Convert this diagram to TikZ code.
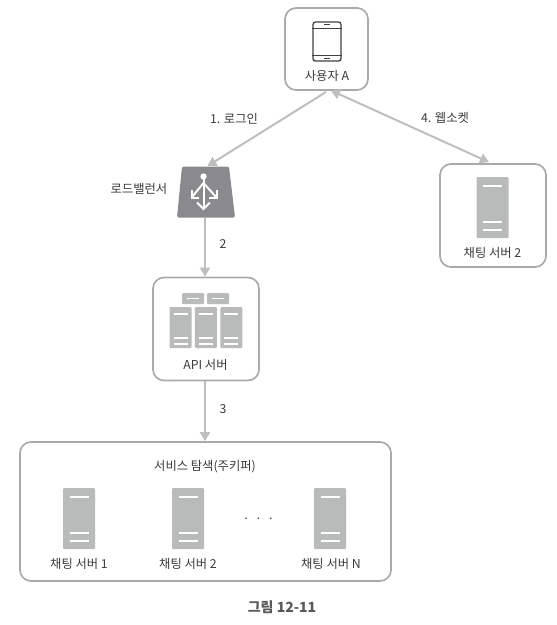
\documentclass[tikz,border=0pt]{standalone}
\usepackage{fontspec}
\setmainfont{Noto Sans CJK KR}
\usepackage{tikz}
\usetikzlibrary{arrows.meta, positioning}

\definecolor{linegray}{HTML}{BDBFBF}
\definecolor{framegray}{HTML}{A9ABAB}
\definecolor{servergray}{HTML}{B9BBBB}
\definecolor{lbgray}{HTML}{8A8A8E}
\definecolor{textgray}{HTML}{3A3A3A}

\begin{document}
\begin{tikzpicture}[
    x=1pt, y=-1pt,
    frame/.style={rectangle, draw=framegray, line width=1.7pt, rounded corners=11pt, inner sep=0pt},
    server/.style={rectangle, fill=servergray, rounded corners=1pt, minimum width=32pt, minimum height=61pt, inner sep=0pt},
    rack/.style={rectangle, fill=servergray, rounded corners=1pt, minimum width=22pt, minimum height=41pt, inner sep=0pt},
    switch/.style={rectangle, fill=servergray, rounded corners=1pt, minimum width=22pt, minimum height=11pt, inner sep=0pt},
    label/.style={text=textgray, font=\fontsize{12.3}{14}\selectfont, inner sep=0pt},
    arrow/.style={-{Triangle[length=9pt,width=10pt]}, line width=2pt, draw=linegray},
    slot/.style={draw=white, line width=1.8pt},
    lbline/.style={draw=white, line width=2pt}
]
\useasboundingbox (0,0) rectangle (557,625);

% boxes
\node[frame, minimum width=83pt, minimum height=82pt] (userbox) at (326.5,49) {};
\node[frame, minimum width=106pt, minimum height=103pt] (apibox) at (206,329) {};
\node[frame, minimum width=106pt, minimum height=103pt] (chatbox) at (493,215.5) {};
\node[frame, minimum width=371pt, minimum height=139pt] (groupbox) at (205.5,511.5) {};

% phone
\node[rectangle, draw=black!75, line width=1.3pt, rounded corners=2.5pt, minimum width=28pt, minimum height=39pt, inner sep=0pt] (phone) at (327,41.5) {};
\draw[black!75, line width=1pt] ([yshift=-7pt]phone.north west) -- ([yshift=-7pt]phone.north east);
\draw[black!75, line width=1pt] ([yshift=6pt]phone.south west) -- ([yshift=6pt]phone.south east);
\draw[black!75, line width=1pt] ([xshift=-3pt,yshift=-3.5pt]phone.north) -- ([xshift=3pt,yshift=-3.5pt]phone.north);
\draw[black!75, line width=1pt] ([xshift=-3pt,yshift=3pt]phone.south) -- ([xshift=3pt,yshift=3pt]phone.south);

% load balancer
\fill[lbgray, rounded corners=1.5pt] (182,166.5) -- (229,166.5) -- (235,217.5) -- (177,217.5) -- cycle;
\coordinate (lbtop) at (207.5,166);
\coordinate (lbbottom) at (205,218);
\fill[white] (203.5,176.5) circle (3.2pt);
\draw[lbline] (203.5,176.5) -- (203.5,208);
\draw[lbline] (203.5,183) -- (192,197);
\draw[lbline] (203.5,183) -- (216,197);
\draw[lbline] (197,202.5) -- (203.5,209) -- (210,202.5);
\draw[lbline] (192,190) -- (192,197.5) -- (199,197.5);
\draw[lbline] (216.5,190) -- (216.5,197.5) -- (209,197.5);

% api servers
\node[switch] (sw1) at (193,298.5) {};
\node[switch] (sw2) at (218,298.5) {};
\node[rack] (rack1) at (180.5,327.5) {};
\node[rack, right=3pt of rack1] (rack2) {};
\node[rack, right=3pt of rack2] (rack3) {};
\foreach \n in {sw1,sw2}
    \draw[slot] ([xshift=-6pt]\n.center) -- ([xshift=6pt]\n.center);
\foreach \n in {rack1,rack2,rack3} {
    \draw[slot] ([xshift=-7pt,yshift=-7pt]\n.north) -- ([xshift=7pt,yshift=-7pt]\n.north);
    \draw[slot] ([xshift=-7pt,yshift=10pt]\n.south) -- ([xshift=7pt,yshift=10pt]\n.south);
    \draw[slot] ([xshift=-7pt,yshift=4.5pt]\n.south) -- ([xshift=7pt,yshift=4.5pt]\n.south);
}

% chat servers
\node[server] (srv0) at (492.5,207.5) {};
\node[server] (srv1) at (79,518.5) {};
\node[server] (srv2) at (188,518.5) {};
\node[server] (srv3) at (330,518.5) {};
\foreach \n in {srv0,srv1,srv2,srv3} {
    \draw[slot] ([xshift=-9.5pt,yshift=-9pt]\n.north) -- ([xshift=9.5pt,yshift=-9pt]\n.north);
    \draw[slot] ([xshift=-9.5pt,yshift=16pt]\n.south) -- ([xshift=9.5pt,yshift=16pt]\n.south);
    \draw[slot] ([xshift=-9.5pt,yshift=8pt]\n.south) -- ([xshift=9.5pt,yshift=8pt]\n.south);
}

% labels
\node[label] (userlabel) at (327,75.5) {사용자 A};
\node[label] (lblabel) at (139,189) {로드밸런서};
\node[label] (apilabel) at (205.5,364.5) {API 서버};
\node[label] (chatlabel) at (492.5,252.5) {채팅 서버 2};
\node[label] (grouplabel) at (205,467) {서비스 탐색(주키퍼)};
\node[label] (srv1label) at (79,563.5) {채팅 서버 1};
\node[label] (srv2label) at (188,563.5) {채팅 서버 2};
\node[label] (srv3label) at (331,563.5) {채팅 서버 N};
\node[label] (dots) at (258.5,519) {.\hspace{9pt}.\hspace{9pt}.};
\node[label, font=\fontsize{14}{16}\selectfont\bfseries, text=black!65] (caption) at (282,607) {그림 12-11};
\node[label] (step1) at (234,118.5) {1. 로그인};
\node[label] (step2) at (223,244) {2};
\node[label] (step3) at (223,409) {3};
\node[label] (step4) at (445,118) {4. 웹소켓};

% connectors
\coordinate (userfoot) at (326,92);
\coordinate (userfoot2) at (331,90.5);
\draw[arrow] (userfoot) -- (lbtop);
\draw[arrow, {Triangle[length=9pt,width=10pt]}-{Triangle[length=9pt,width=10pt]}] (userfoot2) -- ([xshift=-4pt,yshift=1pt]chatbox.north);
\draw[arrow] (lbbottom) -- (apibox.north -| lbbottom);
\draw[arrow] (apibox.south -| lbbottom) -- (groupbox.north -| lbbottom);

\end{tikzpicture}
\end{document}
